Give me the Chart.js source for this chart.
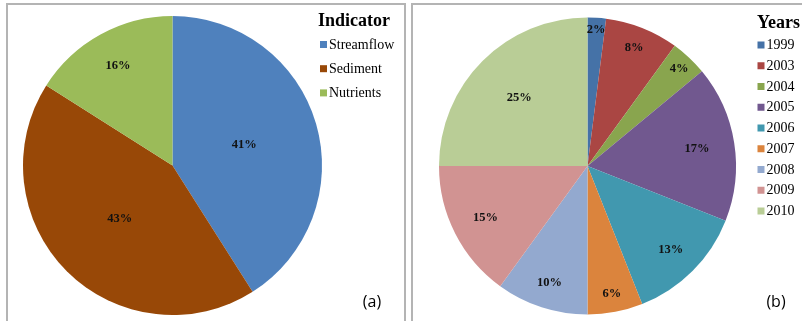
<!DOCTYPE html>
<html>
<head>
<meta charset="utf-8">
<script src="https://cdn.jsdelivr.net/npm/chart.js@4.4.1/dist/chart.umd.min.js"></script>
<style>
  body { margin: 0; background: #fff; width: 802px; height: 321px; overflow: hidden; position: relative; }
  .panel { position: absolute; top: 3px; height: 340px; border: 2px solid #b4b4b4; border-bottom: none; box-sizing: border-box; }
  #panelA { left: 6px; width: 400px; }
  #panelB { left: 411px; width: 400px; border-right: none; }
  canvas { position: absolute; top: 0; }
  #chartA { left: 0; }
  #chartB { left: 400px; }
</style>
</head>
<body>
<div class="panel" id="panelA"></div>
<div class="panel" id="panelB"></div>
<canvas id="chartA" width="400" height="321"></canvas>
<canvas id="chartB" width="402" height="321"></canvas>
<script>
// (a) share by indicator
var indicators = ["Streamflow", "Sediment", "Nutrients"];
var indicatorShare = [41, 43, 16];
var indicatorColors = ["#4f81bd", "#984807", "#9bbb59"];

// (b) share by year
var years = ["1999", "2003", "2004", "2005", "2006", "2007", "2008", "2009", "2010"];
var yearShare = [2, 8, 4, 17, 13, 6, 10, 15, 25];
var yearColors = ["#4572a7", "#aa4643", "#89a54e", "#71588f", "#4198af", "#db843d", "#93a9cf", "#d19392", "#b9cd96"];

var serif = "'Liberation Serif', 'DejaVu Serif', serif";

// percent labels inside the slices; small slices sit nearer the rim
var sliceLabels = {
  id: "sliceLabels",
  afterDatasetsDraw: function (chart) {
    var ctx = chart.ctx;
    var ds = chart.data.datasets[0];
    var total = ds.data.reduce(function (a, b) { return a + b; }, 0);
    ctx.save();
    ctx.font = "bold 12.5px " + serif;
    ctx.fillStyle = "#111";
    ctx.textAlign = "center";
    ctx.textBaseline = "middle";
    chart.getDatasetMeta(0).data.forEach(function (arc, i) {
      var p = arc.getProps(["x", "y", "startAngle", "endAngle", "outerRadius"]);
      var share = ds.data[i] / total;
      var f = Math.min(0.92, Math.max(0.5, 0.95 - 1.2 * share));
      var mid = (p.startAngle + p.endAngle) / 2;
      var r = p.outerRadius * f;
      ctx.fillText(Math.round(share * 100) + "%", p.x + Math.cos(mid) * r, p.y + Math.sin(mid) * r);
    });
    ctx.restore();
  }
};

// legend block at the top right plus the panel tag at the bottom right
var sideLegend = {
  id: "sideLegend",
  afterDraw: function (chart, args, opts) {
    var ctx = chart.ctx;
    var ds = chart.data.datasets[0];
    ctx.save();
    ctx.textBaseline = "middle";
    ctx.textAlign = "left";
    ctx.fillStyle = "#000";
    ctx.font = "bold 18px " + serif;
    ctx.fillText(opts.title, opts.titleX, opts.titleY);
    ctx.font = "14px " + serif;
    chart.data.labels.forEach(function (lab, i) {
      var y = opts.y + i * opts.step;
      ctx.fillStyle = ds.backgroundColor[i];
      ctx.fillRect(opts.x, y - 3.5, 7, 7);
      ctx.fillStyle = "#000";
      ctx.fillText(lab, opts.x + 9, y + 0.5);
    });
    ctx.font = "16px 'Open Sans', 'Liberation Sans', sans-serif";
    ctx.textAlign = "center";
    ctx.fillText(opts.tag, opts.tagX, opts.tagY);
    ctx.restore();
  }
};

function pieChart(id, labels, values, colors, pad, legend) {
  return new Chart(id, {
    type: "pie",
    data: {
      labels: labels,
      datasets: [{
        data: values,
        backgroundColor: colors,
        borderWidth: 0
      }]
    },
    options: {
      responsive: false,
      animation: false,
      layout: { padding: pad },
      plugins: {
        legend: { display: false },
        tooltip: { enabled: false },
        sideLegend: legend
      }
    },
    plugins: [sliceLabels, sideLegend]
  });
}

pieChart("chartA", indicators, indicatorShare, indicatorColors,
  { left: 23, right: 78, top: 16, bottom: 6 },
  { title: "Indicator", titleX: 318, titleY: 21, x: 320, y: 44.5, step: 24.2, tag: "(a)", tagX: 372, tagY: 302 });

pieChart("chartB", years, yearShare, yearColors,
  { left: 39, right: 66, top: 17, bottom: 6 },
  { title: "Years", titleX: 357, titleY: 23, x: 357.5, y: 45, step: 20.75, tag: "(b)", tagX: 376, tagY: 302 });
</script>
</body>
</html>
